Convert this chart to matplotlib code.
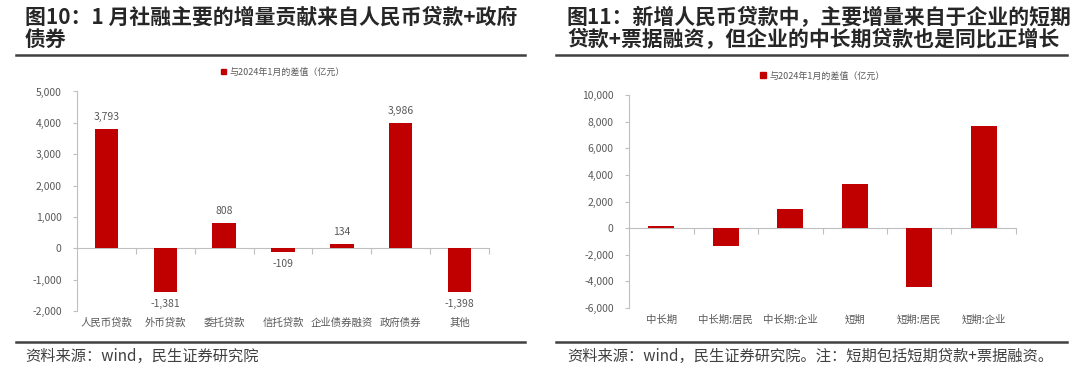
import numpy as np
import matplotlib
matplotlib.use("Agg")
import matplotlib.pyplot as plt
from matplotlib.patches import Patch
from matplotlib.ticker import FuncFormatter, MultipleLocator

plt.rcParams['font.family'] = ['Noto Sans CJK SC', 'DejaVu Sans']

# left chart: social financing components
left_cats = ['人民币贷款', '外币贷款', '委托贷款', '信托贷款', '企业债券融资', '政府债券', '其他']
left_vals = [3793, -1381, 808, -109, 134, 3986, -1398]

# right chart: RMB loan components
right_cats = ['中长期', '中长期:居民', '中长期:企业', '短期', '短期:居民', '短期:企业']
right_vals = [150, -1350, 1460, 3350, -4400, 7700]

legend_label = '与2024年1月的差值（亿元）'
title_left = '图10：1 月社融主要的增量贡献来自人民币贷款+政府\n债券'
title_right = '图11：新增人民币贷款中，主要增量来自于企业的短期\n贷款+票据融资，但企业的中长期贷款也是同比正增长'
source_left = '资料来源：wind，民生证券研究院'
source_right = '资料来源：wind，民生证券研究院。注：短期包括短期贷款+票据融资。'

RED = '#C00000'
GREY = '#595959'
AXC = '#BFBFBF'
W, H = 1080, 374

fig = plt.figure(figsize=(W / 100, H / 100), dpi=100)


def px_axes(x0, x1, ytop, ybot):
    return fig.add_axes([x0 / W, 1 - ybot / H, (x1 - x0) / W, (ybot - ytop) / H])


def draw_panel(ax, cats, vals, ylim, step, labels):
    n = len(cats)
    x = np.arange(n)
    bars = ax.bar(x, vals, width=0.4, color=RED, zorder=3)
    ax.set_xlim(-0.5, n - 0.5)
    ax.set_ylim(*ylim)
    ax.yaxis.set_major_locator(MultipleLocator(step))
    ax.yaxis.set_major_formatter(FuncFormatter(lambda v, p: f'{int(v):,}'))
    for s in ['top', 'right']:
        ax.spines[s].set_visible(False)
    ax.spines['left'].set_color(AXC)
    ax.spines['bottom'].set_color(AXC)
    ax.spines['bottom'].set_position(('data', 0))
    ax.tick_params(axis='y', colors=AXC, labelcolor=GREY, labelsize=7.5, length=3, width=0.8, pad=8)
    ax.set_xticks(x)
    ax.set_xticks(np.arange(n) + 0.5, minor=True)
    ax.tick_params(axis='x', which='major', length=0, labelbottom=False)
    ax.tick_params(axis='x', which='minor', colors=AXC, length=4, width=0.8, direction='out')
    sec = ax.secondary_xaxis(0.0)
    sec.set_xticks(x)
    sec.set_xticklabels(cats)
    sec.spines['bottom'].set_visible(False)
    sec.tick_params(length=0, labelsize=7.5, labelcolor=GREY, pad=5)
    if labels:
        ax.bar_label(bars, labels=[f'{v:,}' for v in vals], padding=5, fontsize=7.5, color=GREY)
    ax.legend(handles=[Patch(color=RED, label=legend_label)], loc='lower center',
              bbox_to_anchor=(0.5, 1.03), frameon=False, fontsize=6.5, handlelength=0.6,
              handleheight=0.6, handletextpad=0.4, labelcolor=GREY)


ax1 = px_axes(77, 489, 91.5, 311)
draw_panel(ax1, left_cats, left_vals, (-2000, 5000), 1000, True)

ax2 = px_axes(629, 1016, 95, 308)
draw_panel(ax2, right_cats, right_vals, (-6000, 10000), 2000, False)

# titles, rules and sources
fig.text(25 / W, 1 - 7 / H, title_left, ha='left', va='top', fontsize=15, fontweight='bold',
         color='#262626', linespacing=1.05)
fig.text(567 / W, 1 - 7 / H, title_right, ha='left', va='top', fontsize=15, fontweight='bold',
         color='#262626', linespacing=1.05)
for x0, x1 in [(16, 525), (556, 1067)]:
    for yy in [55, 342]:
        fig.add_artist(plt.Line2D([x0 / W, x1 / W], [1 - yy / H, 1 - yy / H], color='#404040', lw=1.8))
fig.text(25 / W, 1 - 356 / H, source_left, ha='left', va='center', fontsize=11, color='#404040')
fig.text(567 / W, 1 - 356 / H, source_right, ha='left', va='center', fontsize=11, color='#404040')

fig.savefig('out.png', dpi=100)
